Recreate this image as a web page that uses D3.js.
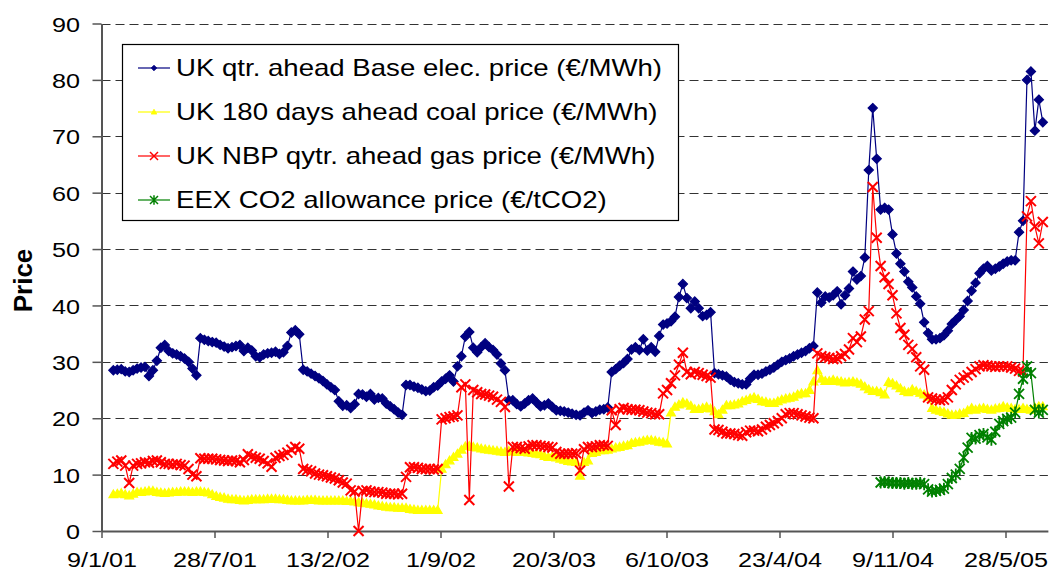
<!DOCTYPE html>
<html>
<head>
<meta charset="utf-8">
<script src="https://cdn.jsdelivr.net/npm/d3@7"></script>
<style>
  html, body { margin: 0; padding: 0; background: #fff; }
  svg { display: block; font-family: "Liberation Sans", Arial, sans-serif; }
</style>
</head>
<body>
<svg id="chart" width="1050" height="574"></svg>
<script>
// weekly readings, first value on startDate, one every 7 days
const startDate = "2001-01-30"
const co2Start = "2004-10-19"
const axisStart = "2001-01-09"

const seriesNames = [
  "UK qtr. ahead Base elec. price (\u20ac/MWh)",
  "UK 180 days ahead coal price (\u20ac/MWh)",
  "UK NBP qytr. ahead gas price (\u20ac/MWh)",
  "EEX CO2 allowance price (\u20ac/tCO2)"
]

const elecValues = [
  28.5, 28.6, 28.7, 28.3, 28.2, 28.5, 28.8, 29.0, 29.1, 27.5, 28.5, 30.2, 32.5, 33.0, 31.9, 31.5, 31.3, 31.0, 30.6, 30.0, 28.8, 27.6,
  34.2, 33.9, 33.7, 33.5, 33.4, 33.0, 32.7, 32.4, 32.6, 32.8, 33.0, 31.9, 32.5, 32.0, 31.0, 30.8, 31.3, 31.5, 31.6, 31.8, 31.4, 31.7, 32.8, 35.2, 35.6, 34.9,
  28.6, 28.3, 27.9, 27.5, 27.1, 26.6, 26.0, 25.5, 25.0, 23.0, 22.2,
  22.3, 21.8, 22.5, 24.3, 24.2, 23.8, 24.3, 23.3, 23.6, 23.5, 22.6, 22.1, 21.6, 21.0, 20.6,
  25.9, 25.9, 25.6, 25.4, 25.1, 24.8, 24.9, 25.5, 25.8, 26.5, 27.0, 27.6, 26.5, 29.2, 31.0, 34.5, 35.3, 32.5, 31.7, 32.6, 33.3, 32.6, 32.1, 31.3, 29.7, 28.5,
  23.2, 23.2, 22.5, 22.1, 22.6, 23.2, 23.5, 22.8, 22.1, 22.3, 22.6, 22.0, 21.4, 21.3, 21.2, 21.0, 20.8, 20.6, 20.5, 21.0, 21.4, 20.9, 21.2, 21.5, 21.6, 21.9,
  28.2, 28.7, 29.3, 29.8, 30.5, 32.2, 32.6, 32.1, 34.0, 32.0, 32.6, 31.8, 34.6, 36.6, 36.8, 37.2, 38.0, 41.5, 43.8, 41.3, 39.5, 40.7, 39.5, 38.1, 38.3, 38.8,
  28.0, 27.8, 27.6, 27.4, 26.8, 26.4, 26.2, 26.0, 26.0, 27.0, 27.7, 27.7, 27.9, 28.3, 28.6, 29.0, 29.5, 30.0, 30.3, 30.6, 31.0, 31.3, 31.6, 31.9, 32.4, 32.8,
  42.3, 40.5, 41.6, 41.4, 41.8, 42.5, 40.2, 41.8, 43.0, 46.0, 44.6, 45.2, 48.5, 64.0, 75.0, 66.0, 57.0, 57.3, 57.0, 52.6, 49.2, 47.4, 46.0, 44.2, 43.2,
  41.6, 40.3, 37.0, 35.1, 34.0, 34.0, 34.2, 34.7, 35.5, 36.7, 37.4, 38.1, 39.2, 40.8, 42.6, 44.0, 45.7, 46.5, 47.0, 46.2, 46.5, 46.9, 47.4, 47.8, 48.0, 48.0,
  53.0, 55.0, 80.0, 81.5, 71.0, 76.5, 72.5
]

const coalValues = [
  6.5, 6.6, 6.7, 6.5, 6.3, 6.6, 6.9, 6.9, 7.0, 7.1, 7.1, 6.9, 6.8, 6.7, 6.8, 6.9, 6.9, 7.0, 7.0, 7.0, 6.9, 7.0, 7.0, 6.9, 6.8, 6.5, 6.2, 6.0, 5.9, 5.7,
  5.6, 5.6, 5.5, 5.4, 5.5, 5.6, 5.6, 5.6, 5.6, 5.7, 5.7, 5.7, 5.6, 5.6, 5.5, 5.4, 5.4, 5.4, 5.4, 5.5, 5.5, 5.5, 5.4, 5.4, 5.4, 5.4, 5.4, 5.4, 5.4,
  5.3, 5.3, 5.2, 5.1, 5.0, 4.9, 4.8, 4.7, 4.5, 4.4, 4.3, 4.2, 4.2, 4.1, 4.1, 4.1, 3.9, 3.8, 3.7, 3.7, 3.7, 3.7, 3.7, 3.7,
  11.0, 11.8, 12.5, 13.1, 13.7, 14.4, 15.0, 15.1, 14.9, 14.8, 14.6, 14.5, 14.4, 14.3, 14.2, 14.1, 14.0, 14.2, 14.1, 14.0, 14.0, 14.0, 13.9, 13.8, 13.7,
  13.6, 13.3, 13.1, 13.3, 13.0, 12.8, 12.6, 12.4, 12.3, 12.2, 9.8, 12.2, 12.5,
  13.8, 14.0, 14.3, 14.3, 14.4, 14.6, 14.8, 14.9, 15.1, 15.2, 15.6, 15.7, 15.8, 16.0, 16.1, 16.1, 16.0, 15.8, 15.7, 15.5,
  21.0, 22.0, 22.4, 22.8, 22.6, 22.2, 21.6, 21.6, 21.8, 22.0, 21.7, 21.2, 20.7, 21.5, 22.3, 22.3, 22.4, 22.6, 23.0, 23.2,
  23.5, 23.7, 23.4, 23.0, 22.9, 22.7, 22.7, 23.0, 23.3, 23.5, 23.6, 23.8, 24.2, 24.4, 24.4, 25.0, 26.5, 28.5, 27.0, 26.6,
  26.6, 26.8, 26.6, 26.5, 26.3, 26.4, 26.5, 26.3, 26.1, 25.6, 25.1, 24.8, 24.8, 24.6, 24.2, 26.4, 26.2, 25.8, 25.3, 24.8,
  24.6, 25.1, 24.8, 24.5, 24.2, 23.8, 21.8, 21.5, 21.3, 21.1, 20.8, 20.6, 20.6, 20.8, 20.9, 21.4, 21.8, 21.5, 21.7, 21.8,
  21.6, 21.5, 21.7, 21.8, 22.1, 21.9, 21.8, 21.6, 21.6, 21.8, 21.6, 21.5, 21.9, 22.1, 22.1
]

const gasValues = [
  11.9, 12.3, 12.5, 11.6, 8.5, 11.6, 11.9, 12.0, 12.2, 12.1, 12.4, 12.5, 12.2, 11.9, 11.9, 11.8, 11.9, 11.7, 11.6, 11.0, 10.0, 9.7,
  12.9, 12.8, 12.8, 12.8, 12.7, 12.6, 12.5, 12.4, 12.5, 12.4, 12.2, 12.6, 13.6, 13.2, 13.0, 12.8, 12.4, 12.0, 11.4, 13.0, 13.3, 13.5, 13.9, 14.4, 14.9, 14.6,
  11.0, 10.8, 10.6, 10.2, 10.0, 9.9, 9.7, 9.5, 9.3, 9.0, 8.6, 8.4, 7.2, 7.0, 0.0, 7.1, 7.2, 7.0, 6.9, 6.9, 6.8, 6.6, 6.6, 6.6, 6.5, 6.6,
  9.6, 11.3, 11.3, 11.2, 11.0, 11.0, 11.0, 10.9, 11.0, 19.8, 20.0, 20.2, 20.3, 20.5, 25.5, 26.0, 5.5, 25.0, 24.6, 24.3, 24.2, 24.0, 23.8, 23.3, 22.9, 22.0,
  7.9, 14.9, 14.9, 14.7, 14.6, 15.0, 15.2, 15.2, 15.1, 15.0, 14.9, 14.8, 14.0, 13.7, 13.7, 13.7, 13.7, 13.8, 10.7, 14.5, 14.9, 14.9, 15.0, 15.2, 15.2, 15.1,
  21.4, 18.8, 21.6, 21.8, 21.6, 21.5, 21.5, 21.4, 21.2, 21.0, 20.9, 20.7, 20.7, 24.4, 25.0, 26.2, 27.6, 29.5, 31.6, 28.2, 27.8, 28.2, 28.0, 27.7, 27.5, 27.2,
  18.0, 17.9, 17.6, 17.3, 17.3, 17.2, 17.0, 16.9, 17.5, 17.8, 17.8, 17.7, 18.0, 18.5, 18.8, 19.1, 19.5, 20.0, 20.7, 20.9, 20.9, 20.7, 20.5, 20.3, 20.1, 20.0,
  31.5, 31.0, 30.8, 30.7, 30.5, 30.6, 31.0, 31.4, 32.2, 34.2, 33.5, 34.5, 37.5, 39.0, 61.0, 52.0, 47.0, 45.0, 43.8, 41.8, 38.6, 36.0, 34.8, 33.0, 32.3, 30.8, 29.2, 28.6,
  23.7, 23.5, 23.3, 23.2, 23.3, 23.7, 25.0, 26.0, 26.8, 27.2, 27.6, 28.2, 28.7, 29.2, 29.4, 29.3, 29.2, 29.1, 29.2, 29.2, 29.2, 29.0, 28.8, 28.4, 28.3,
  55.8, 58.5, 54.0, 51.0, 54.8
]

const co2Values = [
  8.6, 8.7, 8.6, 8.5, 8.5, 8.5, 8.4, 8.5, 8.4, 8.4, 8.5, 8.3, 7.4, 7.0, 7.1, 7.3, 7.5, 8.3, 9.4, 10.0, 11.0,
  13.0, 14.8, 16.5, 16.4, 17.0, 17.2, 16.6, 16.2, 17.6, 19.0, 19.5, 19.9, 20.1, 21.0, 24.3, 27.0, 29.2, 28.0, 21.5, 21.0, 21.5
]

const yTickValues = [0, 10, 20, 30, 40, 50, 60, 70, 80, 90]
const xTickDates = ["2001-01-09", "2001-07-28", "2002-02-13", "2002-09-01", "2003-03-20",
  "2003-10-06", "2004-04-23", "2004-11-09", "2005-05-28"]
const xTickLabels = ["9/1/01", "28/7/01", "13/2/02", "1/9/02", "20/3/03",
  "6/10/03", "23/4/04", "9/11/04", "28/5/05"]
const yTitle = "Price"

window.onload = () => {
  const W = 1050, H = 574
  const sx = 1.2 // the picture is a bit wider than tall text would be
  const left = 101.5, bottom = 531, top = 23.5
  const utc = s => new Date(s + "T00:00:00Z")

  const weekly = (start, values) => values.map((v, i) => ({
    date: d3.utcDay.offset(utc(start), 7 * i), value: v
  }))

  const series = [
    { name: seriesNames[0], data: weekly(startDate, elecValues), color: "#000080", mark: "diamond" },
    { name: seriesNames[1], data: weekly(startDate, coalValues), color: "#ffff00", mark: "triangle" },
    { name: seriesNames[2], data: weekly(startDate, gasValues), color: "#ff0000", mark: "x" },
    { name: seriesNames[3], data: weekly(co2Start, co2Values), color: "#008000", mark: "star" }
  ]

  const x0 = utc(axisStart)
  const x = d3.scaleUtc()
    .domain([x0, d3.utcDay.offset(x0, 1675)])
    .range([left, left + 1675 * 113 / 200])
  const y = d3.scaleLinear().domain([0, 90]).range([bottom, top])
  const right = x.range()[1]

  const svg = d3.select("#chart")
  svg.append("rect").attr("width", W).attr("height", H).attr("fill", "#fff")

  // dashed grid
  svg.append("g")
    .selectAll("line")
    .data(yTickValues.filter(d => d > 0))
    .join("line")
    .attr("x1", left).attr("x2", right)
    .attr("y1", d => Math.round(y(d)) + 0.5).attr("y2", d => Math.round(y(d)) + 0.5)
    .attr("stroke", "#333")
    .attr("stroke-width", 1.2)
    .attr("stroke-dasharray", "9,5")

  // y axis
  const gy = svg.append("g")
    .attr("transform", `translate(${left},0)`)
    .call(d3.axisLeft(y).tickValues(yTickValues).tickSize(9).tickSizeOuter(0).tickFormat(d3.format("d")))
  gy.select(".domain").attr("stroke", "#555").attr("stroke-width", 2)
  gy.selectAll(".tick line").attr("stroke", "#555").attr("stroke-width", 1.5)
  gy.selectAll(".tick text")
    .attr("x", -21.5 / sx)
    .attr("dy", "0.36em")
    .attr("transform", `scale(${sx},1)`)
    .attr("font-size", 21)
    .attr("font-family", "Liberation Sans, Arial, sans-serif")
    .attr("fill", "#000")

  // x axis
  const gx = svg.append("g")
    .attr("transform", `translate(0,${bottom})`)
    .call(d3.axisBottom(x).tickValues(xTickDates.map(utc)).tickSize(7).tickSizeOuter(0)
      .tickFormat((d, i) => xTickLabels[i]))
  gx.select(".domain").attr("stroke", "#555").attr("stroke-width", 2)
  gx.selectAll(".tick line").attr("stroke", "#555").attr("stroke-width", 1.5)
  gx.selectAll(".tick text")
    .attr("y", 36).attr("dy", 0)
    .attr("transform", `scale(${sx},1)`)
    .attr("font-size", 21)
    .attr("font-family", "Liberation Sans, Arial, sans-serif")
    .attr("fill", "#000")

  svg.append("text")
    .attr("transform", "translate(31.5,280.5) rotate(-90)")
    .attr("text-anchor", "middle")
    .attr("font-size", 26)
    .attr("font-weight", "bold")
    .text(yTitle)

  const markPath = (type, r) => {
    const p = d3.path()
    if (type === "diamond") {
      p.moveTo(0, -r); p.lineTo(r, 0); p.lineTo(0, r); p.lineTo(-r, 0); p.closePath()
    } else if (type === "triangle") {
      p.moveTo(0, -r); p.lineTo(r, r * 0.75); p.lineTo(-r, r * 0.75); p.closePath()
    } else if (type === "x") {
      p.moveTo(-r, -r); p.lineTo(r, r); p.moveTo(-r, r); p.lineTo(r, -r)
    } else {
      p.moveTo(-r, -r); p.lineTo(r, r); p.moveTo(-r, r); p.lineTo(r, -r)
      p.moveTo(0, -r * 1.2); p.lineTo(0, r * 1.2)
    }
    return p.toString()
  }
  const markSize = { diamond: 4.6, triangle: 4.4, x: 5, star: 5 }
  const markStroke = { diamond: 1.2, triangle: 1.2, x: 2, star: 1.8 }
  const filled = t => t === "diamond" || t === "triangle"

  const line = d3.line().x(d => x(d.date)).y(d => y(d.value))

  for (const s of series) {
    const g = svg.append("g")
    g.append("path")
      .attr("d", line(s.data))
      .attr("fill", "none")
      .attr("stroke", s.color)
      .attr("stroke-width", 1.2)
    g.selectAll("path.m")
      .data(s.data)
      .join("path")
      .attr("class", "m")
      .attr("transform", d => `translate(${x(d.date)},${y(d.value)})`)
      .attr("d", markPath(s.mark, markSize[s.mark]))
      .attr("fill", filled(s.mark) ? s.color : "none")
      .attr("stroke", s.color)
      .attr("stroke-width", markStroke[s.mark])
  }

  // legend
  const lg = svg.append("g")
  lg.append("rect")
    .attr("x", 122.5).attr("y", 44.5).attr("width", 556).attr("height", 176)
    .attr("fill", "#fff").attr("stroke", "#000").attr("stroke-width", 1.2)
  const legendSize = { diamond: 2.8, triangle: 2.8, x: 4, star: 4 }
  series.forEach((s, i) => {
    const cy = 68 + i * 44
    const row = lg.append("g").attr("transform", `translate(0,${cy})`)
    row.append("line")
      .attr("x1", 138).attr("x2", 170).attr("y1", 0).attr("y2", 0)
      .attr("stroke", s.color).attr("stroke-width", 1.2)
    row.append("path")
      .attr("transform", "translate(154,0)")
      .attr("d", markPath(s.mark, legendSize[s.mark]))
      .attr("fill", filled(s.mark) ? s.color : "none")
      .attr("stroke", s.color)
      .attr("stroke-width", filled(s.mark) ? 0.8 : 1.5)
    row.append("text")
      .attr("transform", `translate(176,0) scale(${sx},1)`)
      .attr("dy", "0.36em")
      .attr("font-size", 23)
      .text(s.name)
  })
}
</script>
</body>
</html>
